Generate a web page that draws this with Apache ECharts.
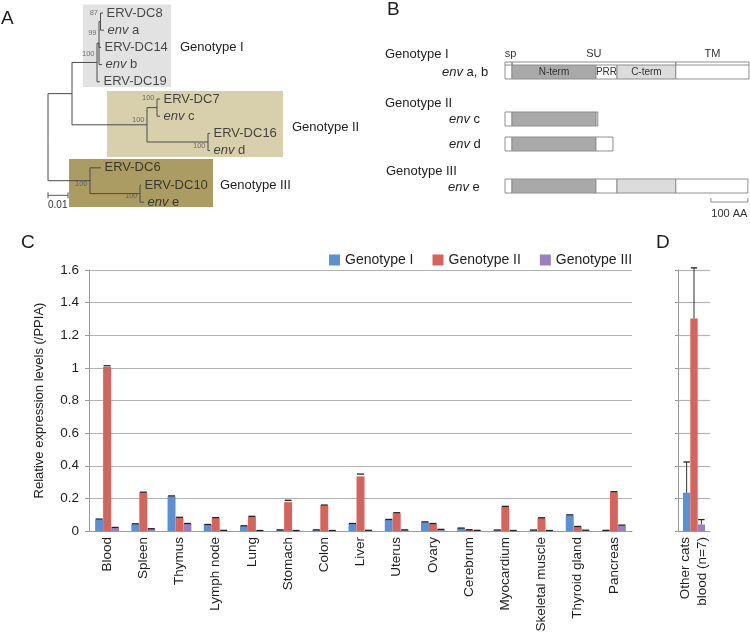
<!DOCTYPE html>
<html><head><meta charset="utf-8">
<script src="https://cdn.jsdelivr.net/npm/echarts@6/dist/echarts.min.js"></script>
<style>html,body{margin:0;padding:0;background:#fff}#c{width:750px;height:635px}</style>
</head><body><div id="c"></div><script>
const FONT = '"Liberation Sans", Arial, Helvetica, sans-serif';
const TXT = '#1e1e1e';

// ---------- Panel A: phylogenetic tree ----------
const leafNames = ['ERV-DC8','env a','ERV-DC14','env b','ERV-DC19','ERV-DC7','env c','ERV-DC16','env d','ERV-DC6','ERV-DC10','env e'];
// [node, parent, distance from root (substitutions/site)]
const treeEdges = [
  ['root', null, 0],
  ['nI_II','root',0.012],
  ['nIII','root',0.021],
  ['nI','nI_II',0.0245],
  ['nII','nI_II',0.0495],
  ['n99','nI',0.0255],
  ['n87','n99',0.02625],
  ['ERV-DC8','n87',0.0275],
  ['env a','n87',0.028],
  ['ERV-DC14','n99',0.0265],
  ['env b','n99',0.027],
  ['ERV-DC19','nI',0.026],
  ['nIIa','nII',0.0545],
  ['ERV-DC7','nIIa',0.056],
  ['env c','nIIa',0.056],
  ['nIIb','nII',0.08],
  ['ERV-DC16','nIIb',0.081],
  ['env d','nIIb',0.081],
  ['ERV-DC6','nIII',0.0265],
  ['nIIIb','nIII',0.046],
  ['ERV-DC10','nIIIb',0.0465],
  ['env e','nIIIb',0.048]
];
const bootstrapNodes = ['n87','n99','nI','nIIa','nII','nIIb','nIII','nIIIb'];
const bootstrapValues = [87, 99, 100, 100, 100, 100, 100, 100];
const treeScale = [0, 0.01];

// ---------- Panel B: env domain structure (amino-acid positions) ----------
const envRows = ['env a, b','env c','env d','env e'];
// [row, startAA, endAA, domain]
const envSegments = [
  [0,0,19,'sp'],[0,19,246,'N-term'],[0,246,303,'PRR'],[0,303,462,'C-term'],[0,462,660,'TM'],
  [1,0,19,'sp'],[1,19,246,'N-term'],[1,246,251,'tail'],
  [2,0,19,'sp'],[2,19,246,'N-term'],[2,246,292,'PRR'],
  [3,0,19,'sp'],[3,19,246,'N-term'],[3,246,303,'PRR'],[3,303,462,'C-term'],[3,462,657,'TM']
];
const envRegions = [['sp',0,19],['SU',19,462],['TM',462,660]];
const aaScale = [557, 657];

// ---------- Panel C / D: expression ----------
const tissues = ['Blood','Spleen','Thymus','Lymph node','Lung','Stomach','Colon','Liver','Uterus','Ovary','Cerebrum','Myocardium','Skeletal muscle','Thyroid gland','Pancreas'];
const genotypeI   = [0.070,0.042,0.212,0.038,0.030,0.006,0.006,0.044,0.069,0.054,0.017,0.005,0.005,0.097,0.003];
const genotypeII  = [1.005,0.235,0.081,0.079,0.087,0.177,0.157,0.335,0.109,0.044,0.007,0.148,0.079,0.026,0.238];
const genotypeIII = [0.020,0.013,0.044,0.003,0.002,0.002,0.002,0.003,0.006,0.009,0.003,0.002,0.002,0.004,0.034];
const errI   = [0.003,0.002,0.003,0.002,0.002,0.001,0.001,0.002,0.002,0.002,0.001,0.001,0.001,0.002,0.001];
const errII  = [0.008,0.003,0.003,0.003,0.003,0.011,0.002,0.014,0.003,0.002,0.001,0.003,0.002,0.002,0.003];
const errIII = [0.002,0.001,0.002,0.001,0.001,0.001,0.001,0.001,0.001,0.001,0.001,0.001,0.001,0.001,0.002];
const otherCats = ['Other cats\nblood (n=7)'];
const otherI = [0.235], otherII = [1.303], otherIII = [0.040];
const otherErrI = [0.188], otherErrII = [0.31], otherErrIII = [0.03];
const yTicks = {min:0, max:1.6, interval:0.2};

const COLORS = ['#5d90d0','#d4645c','#9a80be'];
const SERIES_NAMES = ['Genotype I','Genotype II','Genotype III'];

// ---------- tree geometry from data ----------
const nodes = {};
treeEdges.forEach(([id,p,d]) => nodes[id] = {id, p, d, children: []});
treeEdges.forEach(([id,p]) => { if (p) nodes[p].children.push(id); });
function yOf(id){
  const n = nodes[id];
  if (n.y !== undefined) return n.y;
  if (!n.children.length) n.y = leafNames.indexOf(id);
  else { const ys = n.children.map(yOf); n.y = (Math.min(...ys) + Math.max(...ys)) / 2; }
  return n.y;
}
yOf('root');
const treeLines = treeEdges.filter(e => e[1]).map(([id,p]) => {
  const n = nodes[id], P = nodes[p];
  return {coords: [[P.d, P.y], [P.d, n.y], [n.d, n.y]]};
});
const bootOffsets = {n87:[0,-9], n99:[0,-10], nI:[0,-9], nIIa:[0,-10], nII:[0,-5], nIIb:[0,4], nIII:[0,3], nIIIb:[0,2]};

function envText(s){ return s.startsWith('env ') ? '{i|env} ' + s.slice(4) : s; }

// ---------- layout (panel B rows, px within panel B grid) ----------
const rowY = [72, 119, 144, 186];
const domainFill = {'sp':'#ffffff','N-term':'#a9a9a9','PRR':'#ffffff','C-term':'#dcdcdc','TM':'#ffffff','tail':'#e6e6e6'};

function errSeries(idx, xi, yi, vals, errs, gap, stem){
  return {
    type:'custom', xAxisIndex:xi, yAxisIndex:yi, z:10, silent:true,
    data: vals.map((v,i) => [i, v, v + errs[i]]),
    renderItem(params, api){
      const i = api.value(0);
      const band = api.size([1,0])[0];
      const bw = band * (1 - gap) / 3;
      const c = api.coord([i, api.value(1)]);
      const t = api.coord([i, api.value(2)]);
      const x = c[0] + (idx - 1) * bw;
      const ch = [{type:'line', shape:{x1:x-bw/2+0.5, y1:t[1], x2:x+bw/2-0.5, y2:t[1]}, style:{stroke:'#222', lineWidth:1.3}}];
      if (stem) ch.push({type:'line', shape:{x1:x, y1:c[1], x2:x, y2:t[1]}, style:{stroke:'#333', lineWidth:1}});
      return {type:'group', children: ch};
    }
  };
}

const series = [];
// Panel A boxes
series.push({
  type:'scatter', xAxisIndex:0, yAxisIndex:0, z:1, silent:true, data:[], 
  markArea:{silent:true, label:{show:false}, data:[
    [{xAxis:0.0175, yAxis:-0.52, itemStyle:{color:'#e2e2e2'}},{xAxis:0.0615, yAxis:4.3}],
    [{xAxis:0.0295, yAxis:4.53, itemStyle:{color:'#d8cfad'}},{xAxis:0.1175, yAxis:8.37}],
    [{xAxis:0.0105, yAxis:8.49, itemStyle:{color:'#aa9c62'}},{xAxis:0.0825, yAxis:11.28}]
  ]}
});
series.push({
  type:'lines', coordinateSystem:'cartesian2d', xAxisIndex:0, yAxisIndex:0, polyline:true, z:3, silent:true,
  lineStyle:{color:'#4a4a4a', width:1, opacity:1}, data: treeLines
});
series.push({
  type:'scatter', xAxisIndex:0, yAxisIndex:0, z:4, silent:true, symbolSize:1, itemStyle:{color:'rgba(0,0,0,0)'},
  data: leafNames.map(n => ({value:[nodes[n].d, nodes[n].y], name:n})),
  label:{show:true, position:'right', distance:3, fontSize:13, fontFamily:FONT, color:TXT,
    formatter: p => envText(p.name),
    rich:{i:{fontStyle:'italic', fontSize:13, fontFamily:FONT, color:TXT}}}
});
series.push({
  type:'scatter', xAxisIndex:0, yAxisIndex:0, z:4, silent:true, symbolSize:1, itemStyle:{color:'rgba(0,0,0,0)'},
  data: bootstrapNodes.map((n,i) => ({value:[nodes[n].d, nodes[n].y, bootstrapValues[i]], label:{offset:bootOffsets[n]}})),
  label:{show:true, position:'left', distance:2, fontSize:7.5, fontFamily:FONT, color:'#555', formatter: p => String(p.value[2])}
});
series.push({
  type:'custom', xAxisIndex:0, yAxisIndex:0, z:4, silent:true, data:[[treeScale[0], treeScale[1], 10.6]],
  renderItem(p, api){
    const a = api.coord([api.value(0), api.value(2)]), b = api.coord([api.value(1), api.value(2)]);
    const st = {stroke:'#555', lineWidth:1};
    return {type:'group', children:[
      {type:'line', shape:{x1:a[0],y1:a[1],x2:b[0],y2:b[1]}, style:st},
      {type:'line', shape:{x1:a[0],y1:a[1]-3,x2:a[0],y2:a[1]+3}, style:st},
      {type:'line', shape:{x1:b[0],y1:b[1]-3,x2:b[0],y2:b[1]+3}, style:st},
      {type:'text', style:{text:String(api.value(1)), x:a[0], y:a[1]+10, fontSize:10, fontFamily:FONT, fill:'#333', textAlign:'left', align:'left', textVerticalAlign:'middle', verticalAlign:'middle'}}
    ]};
  }
});
// Panel B segments
series.push({
  type:'custom', xAxisIndex:1, yAxisIndex:1, z:3, silent:true,
  data: envSegments.map(s => [s[1], s[2], s[0]]),
  renderItem(p, api){
    const seg = envSegments[p.dataIndex];
    const y = rowY[api.value(2)];
    const a = api.coord([api.value(0), y]), b = api.coord([api.value(1), y]);
    const ch = [{type:'rect', shape:{x:a[0], y:a[1]-7, width:b[0]-a[0], height:14},
      style:{fill:domainFill[seg[3]], stroke:'#8e8e8e', lineWidth:1}}];
    if (seg[0] === 0 && (seg[3]==='N-term'||seg[3]==='PRR'||seg[3]==='C-term')) {
      ch.push({type:'text', style:{text:seg[3], x:(a[0]+b[0])/2, y:a[1], fontSize:10, fontFamily:FONT, fill:'#333',
        textAlign:'center', align:'center', textVerticalAlign:'middle', verticalAlign:'middle'}});
    }
    return {type:'group', children:ch};
  }
});
// Panel B bracket (sp / SU / TM)
series.push({
  type:'custom', xAxisIndex:1, yAxisIndex:1, z:3, silent:true,
  data: envRegions.map(r => [r[1], r[2]]),
  renderItem(p, api){
    const r = envRegions[p.dataIndex];
    const a = api.coord([api.value(0), 62]), b = api.coord([api.value(1), 62]);
    const st = {stroke:'#8e8e8e', lineWidth:1};
    return {type:'group', children:[
      {type:'line', shape:{x1:a[0],y1:a[1],x2:b[0],y2:b[1]}, style:st},
      {type:'line', shape:{x1:a[0],y1:a[1],x2:a[0],y2:a[1]+3}, style:st},
      {type:'line', shape:{x1:b[0],y1:b[1],x2:b[0],y2:b[1]+3}, style:st},
      {type:'text', style:{text:r[0], x:(a[0]+b[0])/2 + (r[0]==='sp'?2:0), y:a[1]-8, fontSize:11, fontFamily:FONT, fill:'#333',
        textAlign:'center', align:'center', textVerticalAlign:'middle', verticalAlign:'middle'}}
    ]};
  }
});
// Panel B scale bar
series.push({
  type:'custom', xAxisIndex:1, yAxisIndex:1, z:3, silent:true, data:[[aaScale[0], aaScale[1]]],
  renderItem(p, api){
    const a = api.coord([api.value(0), 202]), b = api.coord([api.value(1), 202]);
    const st = {stroke:'#8e8e8e', lineWidth:1};
    return {type:'group', children:[
      {type:'line', shape:{x1:a[0],y1:a[1],x2:b[0],y2:b[1]}, style:st},
      {type:'line', shape:{x1:a[0],y1:a[1],x2:a[0],y2:a[1]-4}, style:st},
      {type:'line', shape:{x1:b[0],y1:b[1],x2:b[0],y2:b[1]-4}, style:st},
      {type:'text', style:{text:(api.value(1)-api.value(0)) + ' AA', x:(a[0]+b[0])/2, y:a[1]+12, fontSize:11, fontFamily:FONT, fill:'#333',
        textAlign:'center', align:'center', textVerticalAlign:'middle', verticalAlign:'middle'}}
    ]};
  }
});
// Panel C bars
[genotypeI, genotypeII, genotypeIII].forEach((d,i) => series.push({
  name:SERIES_NAMES[i], type:'bar', xAxisIndex:2, yAxisIndex:2, data:d, itemStyle:{color:COLORS[i]},
  barGap:'0%', barCategoryGap:'34%', silent:true
}));
[[genotypeI,errI],[genotypeII,errII],[genotypeIII,errIII]].forEach(([v,e],i) => series.push(errSeries(i,2,2,v,e,0.34,false)));
// Panel D bars
[otherI, otherII, otherIII].forEach((d,i) => series.push({
  name:SERIES_NAMES[i], type:'bar', xAxisIndex:3, yAxisIndex:3, data:d, itemStyle:{color:COLORS[i]},
  barGap:'0%', barCategoryGap:'31%', silent:true
}));
[[otherI,otherErrI],[otherII,otherErrII],[otherIII,otherErrIII]].forEach(([v,e],i) => series.push(errSeries(i,3,3,v,e,0.31,true)));

function txt(x, y, text, size, extra){
  return Object.assign({type:'text', x, y, silent:true, style:{text, fontSize:size, fontFamily:FONT, fill:TXT,
    textAlign:'left', textVerticalAlign:'middle', rich:{i:{fontStyle:'italic', fontSize:size, fontFamily:FONT, fill:TXT, color:TXT}}}}, extra||{});
}
const graphics = [
  txt(1, 19, 'A', 19), txt(387, 10, 'B', 19), txt(21, 242.5, 'C', 19), txt(656, 242.5, 'D', 19),
  txt(180, 47, 'Genotype I', 13), txt(292, 127, 'Genotype II', 13), txt(220, 185, 'Genotype III', 13),
  txt(385, 54, 'Genotype I', 13), txt(442, 72, envText('env a, b'), 13),
  txt(385, 103, 'Genotype II', 13), txt(449, 119, envText('env c'), 13), txt(449, 144, envText('env d'), 13),
  txt(386, 171, 'Genotype III', 13), txt(448, 187, envText('env e'), 13)
];

const axisGray = '#9a9a9a', gridGray = '#b3b3b3';
const option = {
  animation:false,
  backgroundColor:'#fff',
  textStyle:{fontFamily:FONT},
  grid:[
    {left:48, top:4.4, width:300, height:206.4},
    {left:505, top:0, width:244, height:220},
    {left:89, top:270, width:543, height:261},
    {left:678, top:270, width:32, height:261}
  ],
  xAxis:[
    {type:'value', gridIndex:0, min:0, max:0.15, show:false},
    {type:'value', gridIndex:1, min:0, max:660, show:false},
    {type:'category', gridIndex:2, data:tissues,
      axisLine:{lineStyle:{color:axisGray, width:1}}, axisTick:{show:false},
      axisLabel:{rotate:90, interval:0, fontSize:13.5, color:TXT, fontFamily:FONT, margin:6}},
    {type:'category', gridIndex:3, data:otherCats,
      axisLine:{lineStyle:{color:axisGray, width:1}}, axisTick:{show:false},
      axisLabel:{rotate:90, interval:0, fontSize:13.5, color:TXT, fontFamily:FONT, margin:6, lineHeight:17}}
  ],
  yAxis:[
    {type:'value', gridIndex:0, min:-0.5, max:11.5, inverse:true, show:false},
    {type:'value', gridIndex:1, min:0, max:220, inverse:true, show:false},
    {type:'value', gridIndex:2, min:yTicks.min, max:yTicks.max, interval:yTicks.interval,
      name:'Relative expression levels (/PPIA)', nameLocation:'middle', nameGap:43,
      nameTextStyle:{fontSize:13, color:TXT, fontFamily:FONT},
      axisLine:{show:true, lineStyle:{color:axisGray}}, axisTick:{show:true, length:4, lineStyle:{color:axisGray}},
      splitLine:{lineStyle:{color:gridGray, width:1.2}},
      axisLabel:{fontSize:13.5, color:TXT, fontFamily:FONT, margin:10}},
    {type:'value', gridIndex:3, min:yTicks.min, max:yTicks.max, interval:yTicks.interval,
      axisLine:{show:true, lineStyle:{color:axisGray}}, axisTick:{show:true, length:3, lineStyle:{color:axisGray}},
      splitLine:{lineStyle:{color:gridGray, width:1.2}}, axisLabel:{show:false}}
  ],
  legend:{data:SERIES_NAMES, left:329, top:253, padding:0, itemWidth:11, itemHeight:11, itemGap:19, icon:'rect',
    textStyle:{fontSize:14, color:TXT, fontFamily:FONT}, selectedMode:false},
  graphic: graphics,
  series
};
const chart = echarts.init(document.getElementById('c'));
chart.setOption(option);
</script></body></html>
